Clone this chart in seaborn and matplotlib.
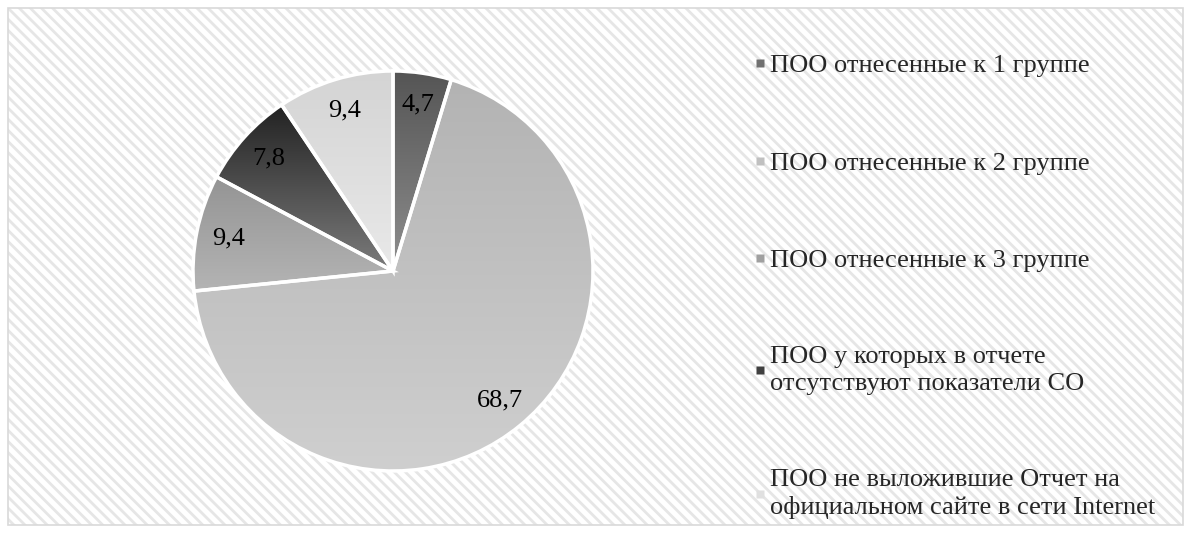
import numpy as np
import matplotlib
matplotlib.use("Agg")
import matplotlib.pyplot as plt
import seaborn as sns
from matplotlib.colors import LinearSegmentedColormap
from matplotlib.patches import Rectangle
from matplotlib.lines import Line2D

# data
categories = [
    "ПОО отнесенные к 1 группе",
    "ПОО отнесенные к 2 группе",
    "ПОО отнесенные к 3 группе",
    "ПОО у которых в отчете\nотсутствуют показатели СО",
    "ПОО не выложившие Отчет на\nофициальном сайте в сети Internet",
]
shares = [4.7, 68.7, 9.4, 7.8, 9.4]
value_labels = ["4,7", "68,7", "9,4", "7,8", "9,4"]

# gradient colours per slice (top -> bottom)
top_colors = ["#555555", "#b3b3b3", "#949494", "#222222", "#d4d4d4"]
bottom_colors = ["#8e8e8e", "#cfcfcf", "#b4b4b4", "#7c7c7c", "#e9e9e9"]
legend_colors = ["#707070", "#c0c0c0", "#a0a0a0", "#404040", "#e0e0e0"]

sns.set_style("white")
plt.rcParams["font.family"] = ["Liberation Serif", "DejaVu Serif"]
plt.rcParams["hatch.linewidth"] = 2.0

W, H = 1190, 533
fig = plt.figure(figsize=(W / 100, H / 100), dpi=100)
fig.patch.set_facecolor("white")

# hatched chart area + border
area = (8 / W, 8 / H, 1175 / W, 517 / H)
fig.add_artist(Rectangle(area[:2], area[2], area[3], transform=fig.transFigure,
                         facecolor="white", edgecolor="#e6e6e6", hatch="\\\\\\",
                         linewidth=0, zorder=0))
fig.add_artist(Rectangle(area[:2], area[2], area[3], transform=fig.transFigure,
                         fill=False, edgecolor="#d9d9d9", linewidth=1.2, zorder=0))

# pie
ax = fig.add_axes([193 / W, (H - 471) / H, 400 / W, 400 / H])
ax.set_facecolor("none")
wedges, texts = ax.pie(shares, labels=value_labels, labeldistance=0.84,
                       startangle=90, counterclock=False, radius=1,
                       wedgeprops=dict(edgecolor="white", linewidth=2.5),
                       textprops=dict(fontsize=19, color="black"))
for t in texts:
    t.set_ha("center")
    t.set_va("center")
    t.set_zorder(3)

grad = np.linspace(0, 1, 256).reshape(-1, 1)
for w, c0, c1 in zip(wedges, top_colors, bottom_colors):
    bb = w.get_path().get_extents()
    cmap = LinearSegmentedColormap.from_list("g", [c0, c1])
    im = ax.imshow(grad, extent=(bb.x0, bb.x1, bb.y0, bb.y1), origin="upper",
                   cmap=cmap, aspect="auto", zorder=1, interpolation="bilinear")
    im.set_clip_path(w)
    w.set_facecolor("none")
    w.set_zorder(2)

ax.set_xlim(-1.0, 1.0)
ax.set_ylim(-1.0, 1.0)
ax.set_aspect("equal")
ax.axis("off")

# legend
handles = [Line2D([], [], marker="s", linestyle="none", markersize=6,
                  markerfacecolor=c, markeredgecolor="none") for c in legend_colors]
leg = fig.legend(handles, categories, loc="upper left", bbox_to_anchor=(753 / W, 1 - 54 / H),
                 frameon=False, fontsize=19, labelspacing=2.8, handlelength=0.5,
                 handletextpad=0.15, borderpad=0, borderaxespad=0)
for t in leg.get_texts():
    t.set_linespacing(1.3)

fig.savefig("out.png", dpi=100)
